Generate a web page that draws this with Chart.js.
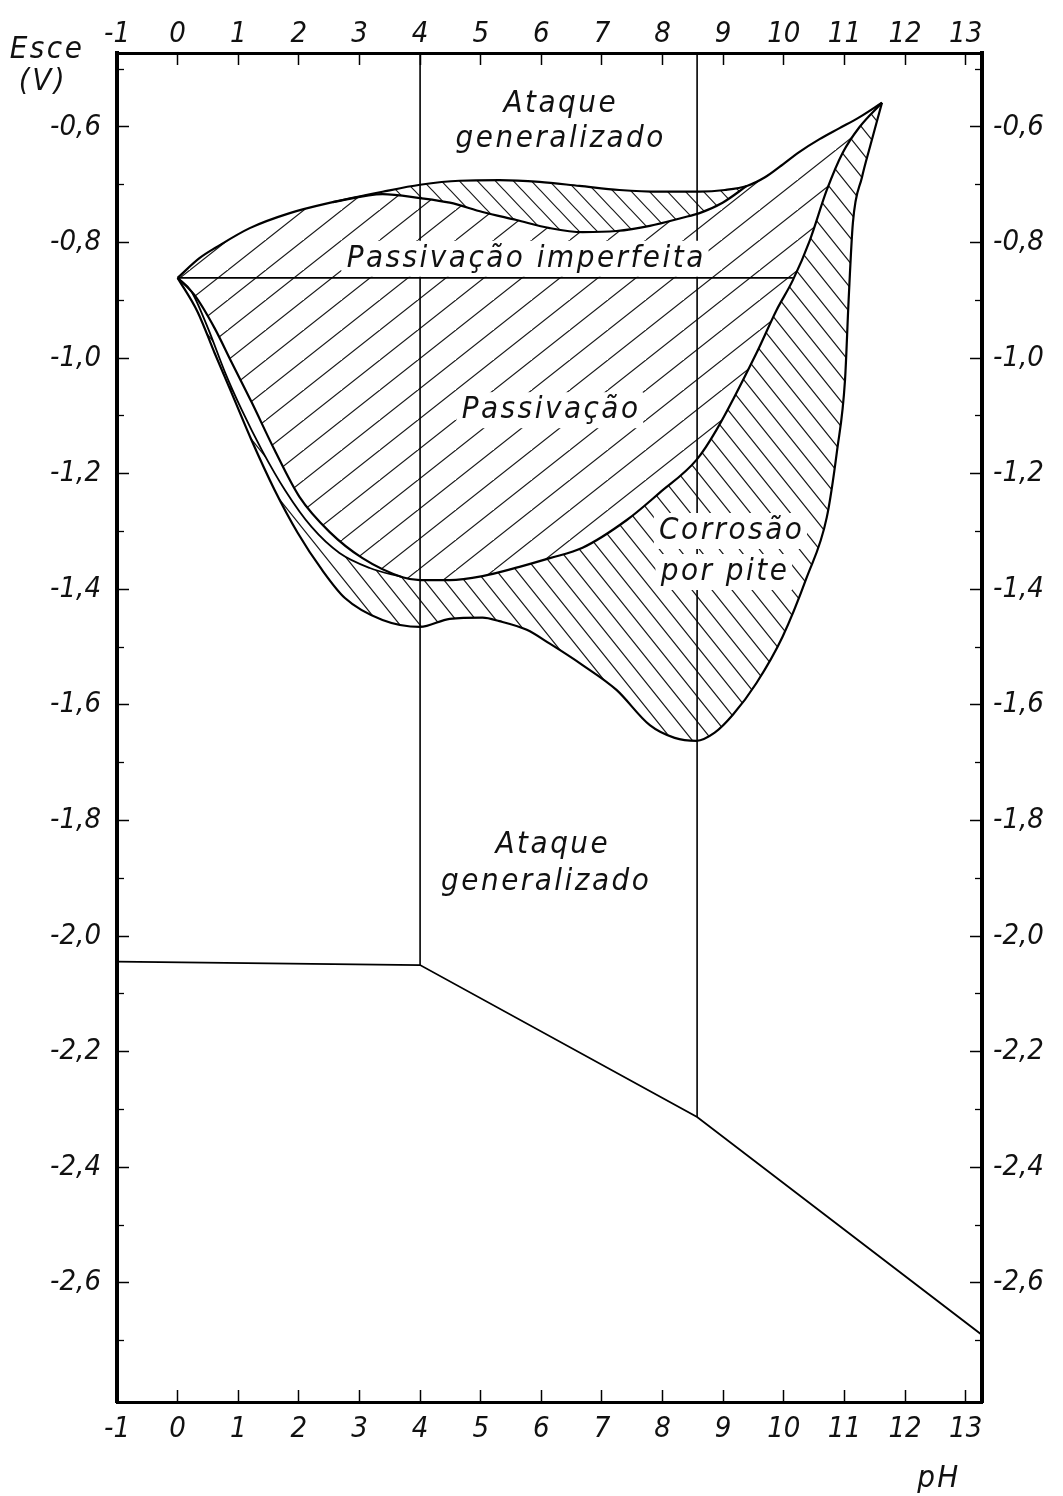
<!DOCTYPE html>
<html>
<head>
<meta charset="utf-8">
<script src="https://cdn.jsdelivr.net/npm/chart.js@4.4.1/dist/chart.umd.min.js"></script>
<style>
  html, body { margin: 0; padding: 0; background: #fff; }
  #wrap { width: 1063px; height: 1496px; }
</style>
</head>
<body>
<div id="wrap"><canvas id="diagram" width="1063" height="1496"></canvas></div>
<script>
// Axis ranges and tick values (pH on x, E_sce in volts on y)
const phRange = [-1, 13.27];
const eRange = [-2.806, -0.472];
const phTicks = [-1, 0, 1, 2, 3, 4, 5, 6, 7, 8, 9, 10, 11, 12, 13];
const eTicks = [-0.6, -0.8, -1.0, -1.2, -1.4, -1.6, -1.8, -2.0, -2.2, -2.4, -2.6];
const eMinorTicks = [-0.5, -0.7, -0.9, -1.1, -1.3, -1.5, -1.7, -1.9, -2.1, -2.3, -2.5, -2.7];

// Upper edge of the passivation domain
const passTopPH = [0, 0.36, 0.64, 1.19, 1.85, 2.56, 3.38, 4.0, 4.65, 5.31, 5.97, 6.63, 7.29, 7.95, 8.61, 9.03, 9.39, 9.69, 9.93, 10.26, 10.59, 10.92, 11.25, 11.62];
const passTopE  = [-0.861, -0.827, -0.808, -0.775, -0.749, -0.730, -0.712, -0.700, -0.693, -0.692, -0.695, -0.702, -0.709, -0.712, -0.712, -0.709, -0.702, -0.687, -0.669, -0.643, -0.621, -0.602, -0.583, -0.558];

// Lower edge of the imperfect-passivation band
const bandLowPH = [2.56, 3.38, 4.0, 4.49, 5.03, 5.59, 6.14, 6.68, 7.24, 7.79, 8.33, 8.61, 8.99, 9.39];
const bandLowE  = [-0.730, -0.716, -0.723, -0.731, -0.747, -0.761, -0.775, -0.782, -0.780, -0.771, -0.757, -0.749, -0.731, -0.702];

// Lower edge of the passivation domain
const passLowPH = [0, 0.28, 0.61, 0.89, 1.22, 1.60, 2.01, 2.51, 3.05, 3.71, 4.0, 4.49, 5.03, 5.64, 6.14, 6.68, 7.41, 7.95, 8.56, 8.89, 9.55, 9.88, 10.15, 10.43, 10.71, 10.97, 11.25, 11.62];
const passLowE  = [-0.861, -0.891, -0.948, -1.007, -1.076, -1.159, -1.240, -1.301, -1.346, -1.379, -1.384, -1.384, -1.377, -1.361, -1.346, -1.328, -1.280, -1.233, -1.176, -1.124, -0.991, -0.917, -0.865, -0.796, -0.709, -0.645, -0.600, -0.558];

// Intermediate curve on the acid side
const innerPH = [0, 0.23, 0.50, 0.78, 1.06, 1.39, 1.77, 2.21, 2.67, 3.17, 3.71];
const innerE  = [-0.861, -0.885, -0.948, -1.024, -1.090, -1.159, -1.228, -1.292, -1.337, -1.363, -1.379];

// Lower edge of the pitting-corrosion domain
const pitLowPH = [0, 0.33, 0.61, 0.89, 1.22, 1.60, 1.98, 2.38, 2.76, 3.38, 4.0, 4.49, 5.03, 5.31, 5.76, 6.14, 6.68, 7.24, 7.79, 8.20, 8.56, 8.86, 9.16, 9.55, 9.98, 10.38, 10.71, 10.88, 11.01, 11.07, 11.14, 11.29, 11.42, 11.62];
const pitLowE  = [-0.861, -0.920, -0.991, -1.060, -1.142, -1.228, -1.302, -1.366, -1.415, -1.453, -1.465, -1.451, -1.449, -1.455, -1.470, -1.494, -1.531, -1.574, -1.635, -1.657, -1.662, -1.648, -1.617, -1.562, -1.482, -1.379, -1.275, -1.159, -1.038, -0.899, -0.766, -0.687, -0.635, -0.558];

// Straight boundaries
const imperfectLinePH = [0, 10.15];
const imperfectLineE  = [-0.861, -0.861];
const acidLimitPH = [4.0, 4.0];
const acidLimitE  = [-0.472, -2.05];
const alkLimitPH  = [8.57, 8.57];
const alkLimitE   = [-0.472, -2.313];
const lowLimitPH  = [-1, 4.0, 8.57, 13.27];
const lowLimitE   = [-2.044, -2.05, -2.313, -2.69];

const FONT = '"DejaVu Sans Condensed", "DejaVu Sans", sans-serif';

// Hatching tiles
function hatch(w, h, forward, lineWidth) {
  const c = document.createElement('canvas');
  c.width = w; c.height = h;
  const g = c.getContext('2d');
  g.fillStyle = '#fff';
  g.fillRect(0, 0, w, h);
  g.strokeStyle = '#1a1a1a';
  g.lineWidth = lineWidth;
  g.beginPath();
  for (let k = -1; k <= 1; k++) {
    if (forward) { // "/"
      g.moveTo(-w, h + k * h); g.lineTo(2 * w, -2 * h + k * h);
    } else {       // "\"
      g.moveTo(-w, -h + k * h); g.lineTo(2 * w, 2 * h + k * h);
    }
  }
  g.stroke();
  return g.createPattern(c, 'repeat');
}
function plain() {
  const c = document.createElement('canvas');
  c.width = 4; c.height = 4;
  const g = c.getContext('2d');
  g.fillStyle = '#fff'; g.fillRect(0, 0, 4, 4);
  return g.createPattern(c, 'repeat');
}
const hatchSlash = hatch(38, 30, true, 1.2);
const hatchBack = hatch(20, 25, false, 1.2);
const hatchBand = hatch(18, 19, false, 1.2);
const blank = plain();

const pts = (xs, ys) => xs.map((v, i) => ({ x: v, y: ys[i] }));
function curve(data, extra) {
  return Object.assign({
    data, borderColor: '#000', borderWidth: 2.2, pointRadius: 0,
    cubicInterpolationMode: 'monotone', fill: false, xAxisID: 'x', yAxisID: 'y'
  }, extra);
}
function straight(data, width) {
  return { data, borderColor: '#000', borderWidth: width, pointRadius: 0, tension: 0, fill: false, xAxisID: 'x', yAxisID: 'y' };
}

const datasets = [
  curve(pts(bandLowPH, bandLowE), { fill: { target: 4 }, backgroundColor: hatchBand }),   // 0
  curve(pts(innerPH, innerE), { fill: { target: 3 }, backgroundColor: blank, borderWidth: 1.8 }), // 1
  curve(pts(pitLowPH, pitLowE), { fill: { target: 3 }, backgroundColor: hatchBack }),     // 2
  curve(pts(passLowPH, passLowE), { fill: { target: 4 }, backgroundColor: hatchSlash }),  // 3
  curve(pts(passTopPH, passTopE)),                                                         // 4
  straight(pts(imperfectLinePH, imperfectLineE), 1.8),
  straight(pts(acidLimitPH, acidLimitE), 1.6),
  straight(pts(alkLimitPH, alkLimitE), 1.6),
  straight(pts(lowLimitPH, lowLimitE), 1.8)
];

const tickFont = { family: FONT, size: 29, style: 'italic' };

function phAxis(position, height, pad) {
  return {
    type: 'linear', position, min: phRange[0], max: phRange[1],
    afterBuildTicks: s => { s.ticks = phTicks.map(v => ({ value: v })); },
    afterFit: s => { s.height = height; },
    ticks: { font: tickFont, color: '#111', padding: pad, autoSkip: false, maxRotation: 0, minRotation: 0, callback: v => String(v) },
    grid: { drawOnChartArea: false, tickLength: -12, tickWidth: 1.5, color: '#000' },
    border: { color: '#000', width: 3 }
  };
}
function eAxis(position, width, pad) {
  return {
    type: 'linear', position, min: eRange[0], max: eRange[1], weight: 1,
    afterBuildTicks: s => { s.ticks = eTicks.map(v => ({ value: v })); },
    afterFit: s => { s.width = width; },
    ticks: { font: tickFont, color: '#111', padding: pad, autoSkip: false, callback: v => v.toFixed(1).replace('.', ',') },
    grid: { drawOnChartArea: false, tickLength: -12, tickWidth: 1.5, color: '#000' },
    border: { color: '#000', width: 4 }
  };
}
function eMinorAxis(position) {
  return {
    type: 'linear', position, min: eRange[0], max: eRange[1], weight: 0,
    afterBuildTicks: s => { s.ticks = eMinorTicks.map(v => ({ value: v })); },
    afterFit: s => { s.width = 0; },
    ticks: { callback: () => '', padding: 0, autoSkip: false },
    grid: { drawOnChartArea: false, tickLength: -7, tickWidth: 1.3, color: '#000' },
    border: { display: false }
  };
}

// Region names, placed in data coordinates
const regionNames = [
  { text: 'Ataque', ph: 6.30, e: -0.560, box: false },
  { text: 'generalizado', ph: 6.30, e: -0.621, box: false },
  { text: 'Passivação imperfeita', ph: 5.73, e: -0.828, box: true },
  { text: 'Passivação', ph: 6.14, e: -1.090, box: true },
  { text: 'Corrosão', ph: 9.12, e: -1.299, box: true },
  { text: 'por pite', ph: 9.01, e: -1.370, box: true },
  { text: 'Ataque', ph: 6.17, e: -1.842, box: false },
  { text: 'generalizado', ph: 6.06, e: -1.906, box: false }
];

const paper = {
  id: 'paper',
  beforeDraw(chart) {
    const c = chart.ctx;
    c.save(); c.fillStyle = '#fff'; c.fillRect(0, 0, chart.width, chart.height); c.restore();
  }
};

const lettering = {
  id: 'lettering',
  afterDatasetsDraw(chart) {
    const { ctx, chartArea: a, scales: { x, y } } = chart;
    const sp = 2.5;
    ctx.save();
    ctx.font = `italic 31px ${FONT}`;
    ctx.letterSpacing = sp + 'px';
    ctx.textAlign = 'center';
    ctx.textBaseline = 'middle';
    for (const n of regionNames) {
      const px = x.getPixelForValue(n.ph), py = y.getPixelForValue(n.e);
      const w = ctx.measureText(n.text).width;
      if (n.box) {
        ctx.fillStyle = '#fff';
        ctx.fillRect(px - w / 2 - 4, py - 18, w + 8, 36);
      }
      ctx.fillStyle = '#111';
      ctx.fillText(n.text, px + sp / 2, py);
    }
    // axis titles
    ctx.fillText('Esce', a.left - 70, a.top - 3);
    ctx.fillText('(V)', a.left - 74, a.top + 29);
    ctx.fillText('pH', a.right - 43, a.bottom + 77);
    ctx.restore();
  }
};

new Chart(document.getElementById('diagram'), {
  type: 'line',
  data: { datasets },
  options: {
    responsive: false,
    devicePixelRatio: 1,
    animation: false,
    events: [],
    layout: { padding: 0 },
    plugins: {
      legend: { display: false },
      tooltip: { enabled: false },
      filler: { drawTime: 'beforeDatasetsDraw', propagate: false }
    },
    scales: {
      x: phAxis('bottom', 94, 22),
      xTop: phAxis('top', 53, 13),
      y: eAxis('left', 117, 28),
      yMinor: eMinorAxis('left'),
      yRight: eAxis('right', 81, 23),
      yRightMinor: eMinorAxis('right')
    }
  },
  plugins: [paper, lettering]
});
</script>
</body>
</html>
